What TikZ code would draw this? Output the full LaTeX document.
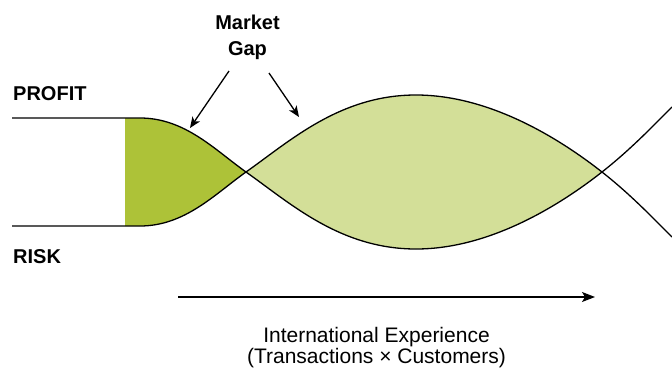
\documentclass[tikz,border=0pt]{standalone}
\usepackage{fontspec}
\setmainfont{Liberation Sans}
\usetikzlibrary{arrows.meta}
\definecolor{darkg}{RGB}{173,194,56}
\definecolor{lightg}{RGB}{211,223,152}
\begin{document}
\begin{tikzpicture}[x=1pt,y=-1pt,
  curve/.style={line width=1.3pt,black},
  lbl/.style={font=\fontsize{20}{24}\selectfont\bfseries,inner sep=0pt},
  axlbl/.style={font=\fontsize{21}{25}\selectfont,inner sep=0pt},
  pointer/.style={line width=1.3pt,-{Stealth[length=11pt,width=9pt,inset=3pt]}}]
\useasboundingbox (0,0) rectangle (672,370);
% fills
\fill[darkg] (125,118) -- (140,118) .. controls (185,118) and (215,150) .. (246,172)
  .. controls (215,194) and (185,226) .. (140,226) -- (125,226) -- cycle;
\fill[lightg] (246,172) .. controls (290,203) and (340,249) .. (416,249)
  .. controls (490,249) and (560,205) .. (602,172)
  .. controls (560,139) and (490,95) .. (416,95)
  .. controls (340,95) and (290,141) .. (246,172) -- cycle;
% profit curve
\draw[curve] (12,118) -- (140,118) .. controls (185,118) and (215,150) .. (246,172)
  .. controls (290,203) and (340,249) .. (416,249)
  .. controls (490,249) and (560,205) .. (602,172)
  .. controls (630,150) and (652,127) .. (672,107);
% risk curve
\draw[curve] (12,226) -- (140,226) .. controls (185,226) and (215,194) .. (246,172)
  .. controls (290,141) and (340,95) .. (416,95)
  .. controls (490,95) and (560,139) .. (602,172)
  .. controls (630,194) and (652,217) .. (672,237);
% labels
\node[lbl,anchor=base west] (profit) at (13,100) {PROFIT};
\node[lbl,anchor=base west] (risk) at (13,263) {RISK};
\node[lbl,anchor=base] (market) at (247.5,29) {Market};
\node[lbl,anchor=base] (gap) at (247.5,55) {Gap};
\coordinate (a1s) at (229,71);
\coordinate (a1e) at (190,128);
\coordinate (a2s) at (269,73);
\coordinate (a2e) at (299,117);
\draw[pointer] (a1s) -- (a1e);
\draw[pointer] (a2s) -- (a2e);
% axis arrow
\coordinate (xs) at (178,297);
\coordinate (xe) at (595,297);
\draw[line width=1.3pt,-{Stealth[length=13pt,width=10pt,inset=3pt]}] (xs) -- (xe);
\node[axlbl,anchor=base] (ie) at (376.5,342) {International Experience};
\node[axlbl,anchor=base] (tc) at (376.5,363) {(Transactions × Customers)};
\end{tikzpicture}
\end{document}
